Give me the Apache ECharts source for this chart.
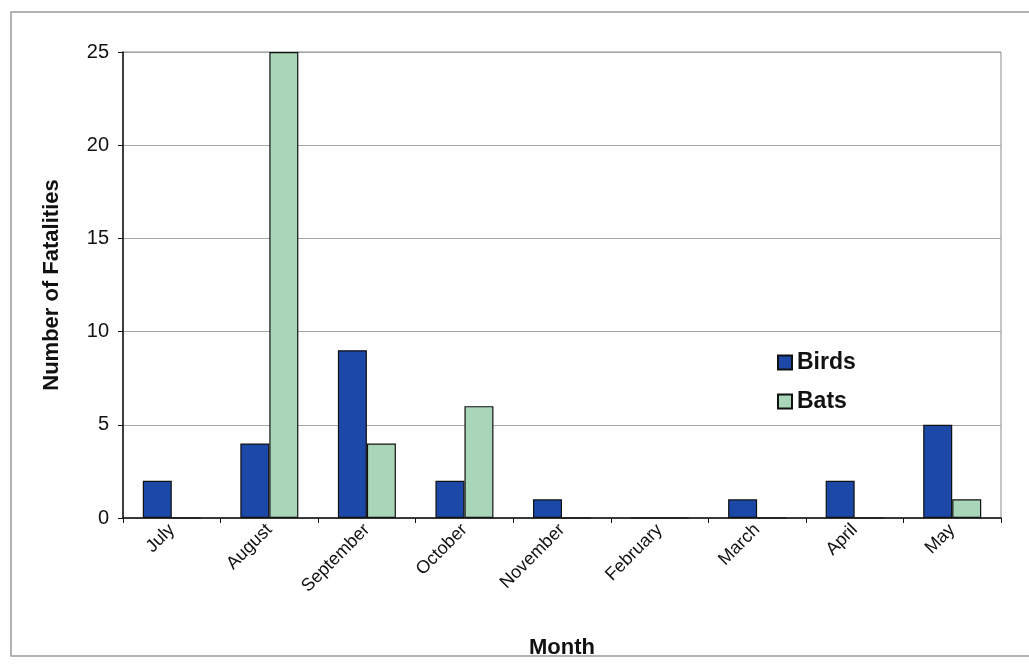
<!DOCTYPE html>
<html>
<head>
<meta charset="utf-8">
<script src="https://cdn.jsdelivr.net/npm/echarts@6/dist/echarts.min.js"></script>
<style>
  html, body { margin: 0; padding: 0; background: #ffffff; }
  #chart { width: 1029px; height: 666px; }
</style>
</head>
<body>
<div id="chart"></div>
<script>
// Monthly fatality counts
const months = ['July', 'August', 'September', 'October', 'November', 'February', 'March', 'April', 'May'];
const birds = [2, 4, 9, 2, 1, 0, 1, 2, 5];
const bats = [0, 25, 4, 6, 0, 0, 0, 0, 1];
const yTicks = [0, 5, 10, 15, 20, 25];

const FONT = '"Liberation Sans", Arial, sans-serif';

const chart = echarts.init(document.getElementById('chart'), null, { renderer: 'canvas' });

chart.setOption({
  animation: false,
  backgroundColor: '#ffffff',
  textStyle: { fontFamily: FONT },
  graphic: [
    {
      type: 'rect',
      shape: { x: 11, y: 12, width: 1030, height: 644 },
      style: { fill: 'none', stroke: '#9a9a9a', lineWidth: 1.5 },
      silent: true,
      z: -1
    }
  ],
  grid: {
    left: 123, right: 28, top: 52, bottom: 148,
    show: true,
    borderColor: '#8a8a8a',
    borderWidth: 1,
    backgroundColor: 'transparent'
  },
  legend: {
    orient: 'vertical',
    left: 772,
    top: 346,
    itemWidth: 14,
    itemHeight: 14,
    itemGap: 16,
    icon: 'rect',
    textStyle: { fontFamily: FONT, fontSize: 23, fontWeight: 'bold', color: '#111' },
    data: ['Birds', 'Bats']
  },
  xAxis: {
    type: 'category',
    data: months,
    name: 'Month',
    nameLocation: 'middle',
    nameGap: 119,
    nameTextStyle: { fontFamily: FONT, fontSize: 22, fontWeight: 'bold', color: '#111' },
    axisLine: { lineStyle: { color: '#111', width: 1.5 } },
    axisTick: { show: true, alignWithLabel: false, length: 5, lineStyle: { color: '#111' } },
    axisLabel: {
      rotate: 45,
      fontSize: 18,
      color: '#111',
      margin: 9,
      interval: 0
    }
  },
  yAxis: {
    type: 'value',
    min: yTicks[0],
    max: yTicks[yTicks.length - 1],
    interval: 5,
    name: 'Number of Fatalities',
    nameLocation: 'middle',
    nameGap: 60,
    nameTextStyle: { fontFamily: FONT, fontSize: 22, fontWeight: 'bold', color: '#111' },
    axisLine: { show: true, lineStyle: { color: '#111', width: 1.5 } },
    axisTick: { show: true, length: 5, lineStyle: { color: '#111' } },
    axisLabel: { fontSize: 20, color: '#111', margin: 14 },
    splitLine: { show: true, lineStyle: { color: '#a5a5a5', width: 1 } }
  },
  series: [
    {
      name: 'Birds',
      type: 'bar',
      data: birds,
      barWidth: 29,
      barGap: '0%',
      itemStyle: { color: '#1c48a8', borderColor: '#111', borderWidth: 1.2 }
    },
    {
      name: 'Bats',
      type: 'bar',
      data: bats,
      barWidth: 29,
      barGap: '0%',
      itemStyle: { color: '#a9d5b8', borderColor: '#111', borderWidth: 1.2 }
    }
  ]
});
</script>
</body>
</html>
